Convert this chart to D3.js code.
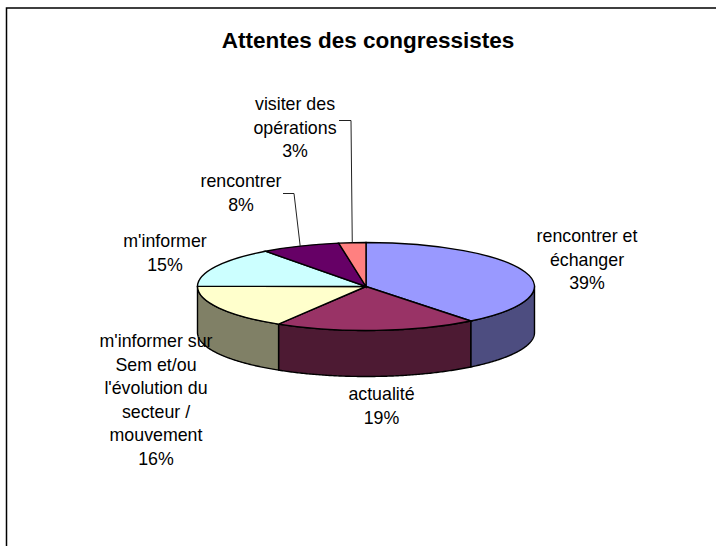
<!DOCTYPE html>
<html lang="fr">
<head>
  <meta charset="UTF-8">
  <title>Attentes des congressistes</title>
  <style>
    html, body { margin: 0; padding: 0; background: #fff; }
    svg { display: block; }
    text { font-family: "Liberation Sans", Arial, sans-serif; fill: #000; }
    .label { font-size: 17.8px; }
    .title { font-size: 22.5px; font-weight: bold; }
  </style>
</head>
<body>
  <div id="app"></div>

  <script src="https://cdn.jsdelivr.net/npm/d3@7"></script>
  <script>
    const title = 'Attentes des congressistes'
    const categories = [
      'rencontrer et échanger',
      'actualité',
      "m'informer sur Sem et/ou l'évolution du secteur / mouvement",
      "m'informer",
      'rencontrer',
      'visiter des opérations',
    ]
    const values = [39.4, 19.4, 16.4, 14.8, 7.6, 2.6]
    const topColors = ['#9999ff', '#993366', '#ffffcc', '#ccffff', '#660066', '#ff8080']
    const sideColors = ['#4d4d80', '#4d1a33', '#808066', '#668080', '#330033', '#804040']
    const labelLines = [
      ['rencontrer et', 'échanger'],
      ['actualité'],
      ["m'informer sur", 'Sem et/ou', "l'évolution du", 'secteur /', 'mouvement'],
      ["m'informer"],
      ['rencontrer'],
      ['visiter des', 'opérations'],
    ]
    // label centre x, first baseline y
    const labelPos = [[587, 242], [381.5, 400], [156, 347], [165, 247], [241, 187], [295, 110]]

    const width = 716, height = 546
    const cx = 366, cy = 286.5, rx = 168.5, ry = 44, depth = 46
    const lineHeight = 23.6

    const svg = d3.select('#app').append('svg')
      .attr('width', width)
      .attr('height', height)

    // frame, open on the right and at the bottom
    svg.append('path')
      .attr('d', d3.line()([[width, 8], [6.5, 8], [6.5, height]]))
      .attr('fill', 'none')
      .attr('stroke', '#000')
      .attr('stroke-width', 1.5)

    svg.append('text')
      .attr('class', 'title')
      .attr('x', 368)
      .attr('y', 48)
      .attr('text-anchor', 'middle')
      .text(title)

    const pie = d3.pie().sort(null).value(d => d.value)
    const slices = pie(categories.map((name, i) => ({ name, value: values[i], index: i })))

    const px = a => cx + rx * Math.sin(a)
    const py = a => cy - ry * Math.cos(a)

    // front wall, only the part of each slice between 3 and 9 o'clock
    const wall = svg.append('g')
    slices.forEach(s => {
      const a0 = Math.max(s.startAngle, Math.PI / 2)
      const a1 = Math.min(s.endAngle, Math.PI * 3 / 2)
      if (a1 <= a0) return
      const angles = d3.range(a0, a1, 0.01).concat([a1])
      const area = d3.area()
        .x(a => px(a))
        .y0(a => py(a))
        .y1(a => py(a) + depth)
      wall.append('path')
        .attr('d', area(angles))
        .attr('fill', sideColors[s.index])
        .attr('stroke', '#000')
        .attr('stroke-width', 1.4)
        .attr('stroke-linejoin', 'round')
    })

    // top of the pie: a flat arc squashed into an ellipse
    const arc = d3.arc().innerRadius(0).outerRadius(rx)
    svg.append('g')
      .attr('transform', `translate(${cx},${cy}) scale(1,${ry / rx})`)
      .selectAll('path')
      .data(slices)
      .join('path')
      .attr('d', arc)
      .attr('fill', d => topColors[d.index])
      .attr('stroke', '#000')
      .attr('stroke-width', 1.4)
      .attr('vector-effect', 'non-scaling-stroke')

    // leader lines go from the label to the middle of the slice's outer edge
    const leaders = [
      { index: 4, x0: 283, y0: 193.5, x1: 294 },
      { index: 5, x0: 339, y0: 120.5, x1: 351 },
    ]
    leaders.forEach(l => {
      const s = slices[l.index]
      const mid = (s.startAngle + s.endAngle) / 2
      svg.append('path')
        .attr('d', d3.line()([[l.x0, l.y0], [l.x1, l.y0], [px(mid), py(mid)]]))
        .attr('fill', 'none')
        .attr('stroke', '#222')
        .attr('stroke-width', 1)
    })

    const labels = svg.append('g')
    slices.forEach(s => {
      const i = s.index
      const lines = labelLines[i].concat([d3.format('.0f')(values[i]) + '%'])
      const text = labels.append('text')
        .attr('class', 'label')
        .attr('text-anchor', 'middle')
        .attr('transform', `translate(${labelPos[i][0]},${labelPos[i][1]})`)
      text.selectAll('tspan')
        .data(lines)
        .join('tspan')
        .attr('x', 0)
        .attr('y', (d, k) => k * lineHeight)
        .text(d => d)
    })
  </script>
</body>
</html>
